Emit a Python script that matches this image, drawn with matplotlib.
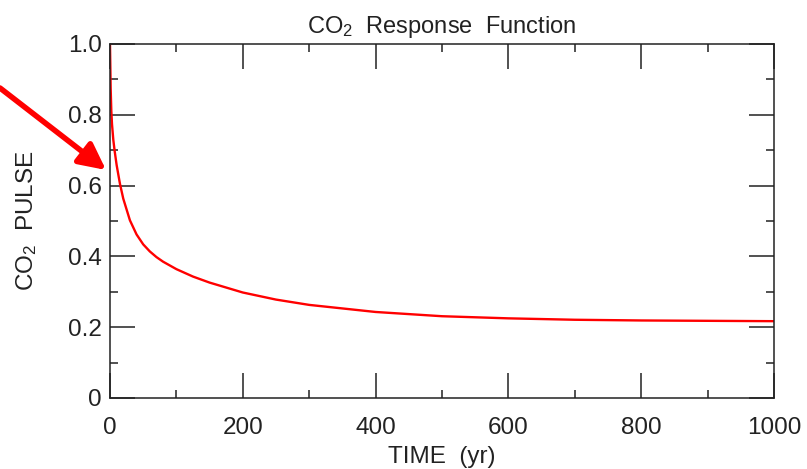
import matplotlib
matplotlib.use("Agg")
import matplotlib.pyplot as plt
from matplotlib.ticker import MultipleLocator

# values
anos = [0, 1, 2, 3, 5, 7, 10, 15, 20, 30, 40, 50, 60, 70, 80, 100,
        125, 150, 200, 250, 300, 400, 500, 600, 700, 800, 900, 1000]
pulso = [1.0, 0.875, 0.811, 0.774, 0.729, 0.698, 0.658, 0.605, 0.563, 0.502,
         0.462, 0.434, 0.414, 0.398, 0.385, 0.364, 0.343, 0.326, 0.298,
         0.278, 0.263, 0.243, 0.231, 0.225, 0.221, 0.219, 0.218, 0.217]

plt.rcParams['font.family'] = ['Liberation Sans', 'DejaVu Sans']
plt.rcParams['mathtext.default'] = 'regular'

fig = plt.figure(figsize=(8.07, 4.69), dpi=100)
ax = fig.add_axes([0.1363, 0.1514, 0.8227, 0.7548])

ax.plot(anos, pulso, color='red', lw=1.7)

ax.set_xlim(0, 1000)
ax.set_ylim(0, 1.0)
ax.xaxis.set_major_locator(MultipleLocator(200))
ax.xaxis.set_minor_locator(MultipleLocator(100))
ax.yaxis.set_major_locator(MultipleLocator(0.2))
ax.yaxis.set_minor_locator(MultipleLocator(0.1))
ax.yaxis.set_major_formatter(lambda v, p: f"{v:.1f}" if v > 0 else "0")

cor = '#222222'
for s in ax.spines.values():
    s.set_linewidth(1.1)
    s.set_color(cor)
ax.tick_params(which='both', direction='in', top=True, right=True, color=cor,
               width=1.1, labelsize=17.5, labelcolor=cor)
ax.tick_params(which='major', length=18)
ax.tick_params(which='minor', length=6)
ax.tick_params(axis='x', pad=13.5)
ax.tick_params(axis='y', pad=6)

ax.set_title(r"CO$_2$  Response  Function", fontsize=17, color=cor, pad=8)
ax.set_xlabel("TIME  (yr)", fontsize=17.5, color=cor, labelpad=5)
ax.set_ylabel(r"CO$_2$  PULSE", fontsize=17.5, color=cor, labelpad=21)

# seta vermelha apontando para a curva
fig.add_artist(matplotlib.patches.FancyArrowPatch(
    (0 / 807, 1 - 88 / 469), (106 / 807, 1 - 170 / 469),
    transform=fig.transFigure, arrowstyle='-|>,head_length=16,head_width=8',
    color='red', lw=4, mutation_scale=1, shrinkA=0, shrinkB=0))

fig.savefig("out.png", dpi=100)
